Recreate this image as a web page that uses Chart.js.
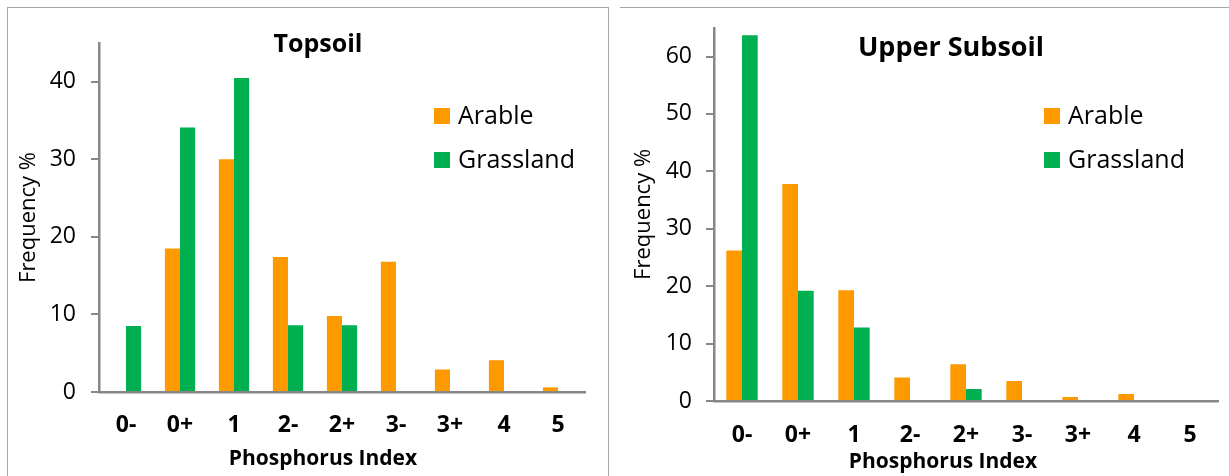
<!DOCTYPE html>
<html>
<head>
<meta charset="utf-8">
<script src="https://cdn.jsdelivr.net/npm/chart.js@4.4.1/dist/chart.umd.min.js"></script>
<style>
  body { margin: 0; background: #fff; width: 1229px; height: 476px; overflow: hidden; position: relative; }
  canvas { position: absolute; top: 0; }
  #topsoil { left: 0; }
  #subsoil { left: 612px; }
  .box1 { position: absolute; left: 7px; top: 7px; width: 600px; height: 500px; border: 1.5px solid #a6a6a6; }
  .box2 { position: absolute; left: 620px; top: 7px; width: 620px; border-top: 1.5px solid #a6a6a6; }
</style>
</head>
<body>
<div class="box1"></div>
<div class="box2"></div>
<canvas id="topsoil" width="612" height="476"></canvas>
<canvas id="subsoil" width="617" height="476"></canvas>
<script>
var phosIndex = ['0-', '0+', '1', '2-', '2+', '3-', '3+', '4', '5'];
var seriesNames = ['Arable', 'Grassland'];
var seriesColors = ['#ff9900', '#00b050'];

// Topsoil, frequency %
var topArable = [0, 18.5, 30, 17.4, 9.8, 16.8, 2.9, 4.1, 0.6];
var topGrass = [8.5, 34.1, 40.5, 8.6, 8.6, 0, 0, 0, 0];
var topTicks = [0, 10, 20, 30, 40];

// Upper subsoil, frequency %
var subArable = [26.2, 37.8, 19.3, 4.1, 6.4, 3.5, 0.7, 1.2, 0];
var subGrass = [63.7, 19.2, 12.8, 0, 2.1, 0, 0, 0, 0];
var subTicks = [0, 10, 20, 30, 40, 50, 60];

var fontName = "'Open Sans', sans-serif";
var axisGrey = '#878787';

// title, legend and x title are placed by hand, like the original excel chart
var panelText = {
    id: 'panelText',
    afterDraw: function (chart, args, o) {
        var ctx = chart.ctx;
        ctx.save();
        ctx.fillStyle = '#000';
        ctx.textAlign = 'center';
        ctx.textBaseline = 'middle';
        ctx.font = 'bold ' + o.titleSize + 'px ' + fontName;
        ctx.fillText(o.title, o.titleX, o.titleY);

        ctx.font = 'bold 21px ' + fontName;
        ctx.fillText('Phosphorus Index', o.xTitleX, o.xTitleY);

        ctx.font = '25px ' + fontName;
        ctx.textAlign = 'left';
        chart.data.datasets.forEach(function (ds, i) {
            var y = o.legendY + i * 44;
            ctx.fillStyle = ds.backgroundColor;
            ctx.fillRect(o.legendX, y - 8, 16, 16);
            ctx.fillStyle = '#000';
            ctx.fillText(ds.label, o.legendX + 24, y + 1);
        });
        ctx.restore();
    }
};

function makeChart(id, arable, grass, ticks, yMax, g) {
    var ctx = document.getElementById(id).getContext('2d');
    return new Chart(ctx, {
        type: 'bar',
        data: {
            labels: phosIndex,
            datasets: [
                { label: seriesNames[0], data: arable, backgroundColor: seriesColors[0] },
                { label: seriesNames[1], data: grass, backgroundColor: seriesColors[1] }
            ]
        },
        options: {
            responsive: false,
            animation: false,
            devicePixelRatio: 1,
            categoryPercentage: 0.56,
            barPercentage: 1,
            layout: { padding: { left: 0, top: g.top, right: g.canvasW - g.right, bottom: 0 } },
            plugins: {
                legend: { display: false },
                tooltip: { enabled: false },
                panelText: g
            },
            scales: {
                x: {
                    afterFit: function (s) { s.height = 476 - g.bottom; },
                    grid: { drawOnChartArea: false, drawTicks: false },
                    border: { color: axisGrey, width: 2.5 },
                    ticks: { padding: g.xTickPad, color: '#000', font: { family: fontName, size: 23, weight: 'bold' } }
                },
                y: {
                    min: 0,
                    max: yMax,
                    afterBuildTicks: function (s) {
                        s.ticks = ticks.map(function (v) { return { value: v }; });
                    },
                    afterFit: function (s) { s.width = g.left; },
                    grid: { drawOnChartArea: false, tickLength: 8, color: axisGrey, lineWidth: 2 },
                    border: { color: axisGrey, width: 2.5 },
                    ticks: { padding: g.yTickPad, color: '#000', font: { family: fontName, size: 23 } },
                    title: {
                        display: true,
                        text: 'Frequency %',
                        color: '#000',
                        font: { family: fontName, size: 22 },
                        padding: { top: g.yTitlePad, bottom: 0 }
                    }
                }
            }
        },
        plugins: [panelText]
    });
}

makeChart('topsoil', topArable, topGrass, topTicks, 45, {
    canvasW: 612, left: 99, right: 585, top: 43, bottom: 392,
    xTickPad: 20, yTickPad: 15, yTitlePad: 16,
    title: 'Topsoil', titleSize: 25, titleX: 318, titleY: 45,
    xTitleX: 323, xTitleY: 459,
    legendX: 434, legendY: 116
});

makeChart('subsoil', subArable, subGrass, subTicks, 65, {
    canvasW: 617, left: 102, right: 606, top: 25, bottom: 401,
    xTickPad: 21, yTickPad: 14, yTitlePad: 19,
    title: 'Upper Subsoil', titleSize: 27, titleX: 339, titleY: 48,
    xTitleX: 331, xTitleY: 462,
    legendX: 432, legendY: 116
});
</script>
</body>
</html>
